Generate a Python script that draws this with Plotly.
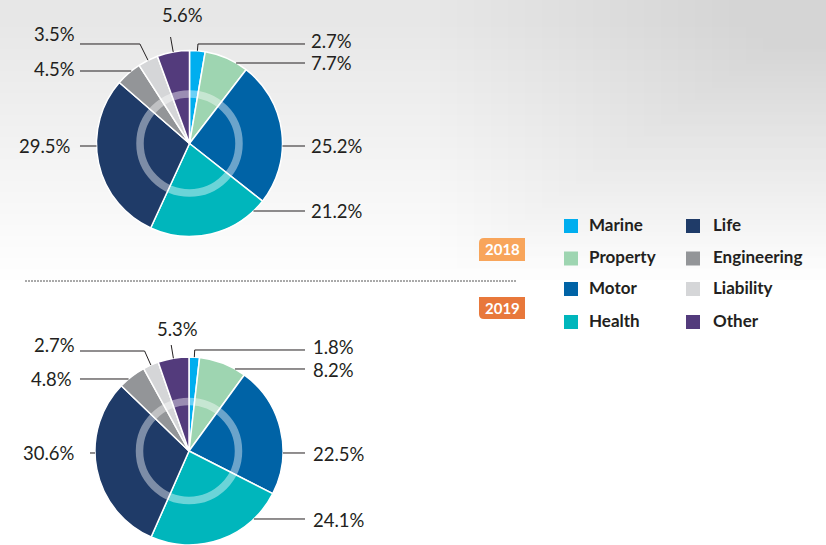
import math
import plotly.graph_objects as go

W, H = 826, 545

categories = ["Marine", "Property", "Motor", "Health", "Life", "Engineering", "Liability", "Other"]
colors = ["#00AEEF", "#9ED5B1", "#0063A6", "#00B6BC", "#1F3B68", "#939598", "#D5D6D8", "#533B7C"]
years = ["2018", "2019"]
share_2018 = [2.7, 7.7, 25.2, 21.2, 29.5, 4.5, 3.5, 5.6]
share_2019 = [1.8, 8.2, 22.5, 24.1, 30.6, 4.8, 2.7, 5.3]
shares = {"2018": share_2018, "2019": share_2019}

# pie placement in px: centre x, centre y, radius
pie_pos = {"2018": (189.5, 143.5, 93), "2019": (189, 451, 94)}

# label placement per slice: side, leader y, leader end x (or end y for top), text x, text y
label_pos = {
    "2018": [("r", 44, 305, 309, 41), ("r", 63, 305, 309, 63), ("r", 146, 305, 309, 146),
             ("r", 211, 305, 309, 211), ("l", 146, 80, 73, 146), ("l", 71, 80, 77, 69),
             ("l", 44, 80, 77, 34), ("t", 37, 0, 182, 15)],
    "2019": [("r", 350, 305, 311, 347), ("r", 369, 305, 311, 370), ("r", 453, 305, 311, 454),
             ("r", 519, 305, 311, 520), ("l", 453, 90, 77, 453), ("l", 379, 80, 74, 379),
             ("l", 351, 80, 77, 345), ("t", 345, 0, 177, 329)],
}

badge_colors = {"2018": "#F8A55B", "2019": "#E8783B"}
badge_pos = {"2018": (479, 238, 525, 261), "2019": (479, 297, 525, 319)}

LABEL_FONT = dict(family="Lato", size=18.5, color="#231F20")


def X(x):
    return x / W


def Y(y):
    return 1 - y / H


def path(points):
    return "M " + " L ".join(f"{X(x):.5f},{Y(y):.5f}" for x, y in points)


def leader(cx, cy, r, a0, a1, side, ly, lx):
    mid = math.radians((a0 + a1) / 2)
    dy = ly - cy
    if side != "t" and abs(dy) < r:
        dx = math.sqrt(r * r - dy * dy) * (1 if side == "r" else -1)
        ang = math.degrees(math.atan2(dx, -dy)) % 360
        if a0 <= ang <= a1:
            return [(cx + dx, ly), (lx, ly)]
    sx, sy = cx + r * math.sin(mid), cy - r * math.cos(mid)
    t = (sy - ly) / math.cos(mid)
    ex = sx + t * math.sin(mid)
    if side == "t":
        return [(sx, sy), (ex, ly)]
    return [(sx, sy), (ex, ly), (lx, ly)]


fig = go.Figure()
shapes = []
annotations = []

# soft background wash, stacked thin layers
for k in range(24):
    shapes.append(dict(type="rect", xref="paper", yref="paper", layer="below",
                       x0=0, x1=1, y0=Y(280 - k * 11), y1=1,
                       fillcolor="#E9EAEF", opacity=0.03, line_width=0))
for k in range(20):
    shapes.append(dict(type="rect", xref="paper", yref="paper", layer="below",
                       x0=X(440 + k * 17), x1=1, y0=Y(280 - k * 12), y1=1,
                       fillcolor="#D3D7E2", opacity=0.025, line_width=0))

for year in years:
    vals = shares[year]
    cx, cy, r = pie_pos[year]
    fig.add_trace(go.Pie(
        labels=categories, values=vals, sort=False, direction="clockwise", rotation=0,
        marker=dict(colors=colors, line=dict(color="white", width=1.5)),
        textinfo="none", hoverinfo="label+percent", showlegend=False,
        domain=dict(x=[X(cx - r), X(cx + r)], y=[Y(cy + r), Y(cy - r)]),
    ))
    # translucent inner ring
    rr = 49.5
    shapes.append(dict(type="circle", xref="paper", yref="paper", layer="above",
                       x0=X(cx - rr), x1=X(cx + rr), y0=Y(cy + rr), y1=Y(cy - rr),
                       line=dict(color="rgba(255,255,255,0.42)", width=7.5)))

    total = sum(vals)
    start = 0
    for v, (side, ly, lx, tx, ty) in zip(vals, label_pos[year]):
        a0 = start / total * 360
        a1 = (start + v) / total * 360
        start += v
        pts = leader(cx, cy, r, a0, a1, side, ly, lx)
        shapes.append(dict(type="path", xref="paper", yref="paper", layer="above",
                           path=path(pts), line=dict(color="#231F20", width=1)))
        anchor = {"r": "left", "l": "right", "t": "center"}[side]
        annotations.append(dict(x=X(tx), y=Y(ty), xref="paper", yref="paper",
                                text=f"{v:.1f}%", showarrow=False, xanchor=anchor,
                                yanchor="middle", font=LABEL_FONT))

    # year badge
    x0, y0, x1, y1 = badge_pos[year]
    rad = 5
    if year == "2018":
        bp = [(x0, y0 + rad), (x0, y1), (x1, y1), (x1, y0), (x0 + rad, y0)]
        d = path(bp) + f" Q {X(x0):.5f},{Y(y0):.5f} {X(x0):.5f},{Y(y0 + rad):.5f} Z"
    else:
        bp = [(x0, y0), (x1, y0), (x1, y1), (x0 + rad, y1)]
        d = path(bp) + f" Q {X(x0):.5f},{Y(y1):.5f} {X(x0):.5f},{Y(y1 - rad):.5f} Z"
    shapes.append(dict(type="path", xref="paper", yref="paper", path=d,
                       fillcolor=badge_colors[year], line_width=0))
    annotations.append(dict(x=X((x0 + x1) / 2), y=Y((y0 + y1) / 2), xref="paper", yref="paper",
                            text=f"<b>{year}</b>", showarrow=False,
                            font=dict(family="Lato", size=15, color="white")))

# dotted separator between the years
shapes.append(dict(type="line", xref="paper", yref="paper", x0=X(25), x1=X(517),
                   y0=Y(281), y1=Y(281), line=dict(color="#555555", width=1, dash="2px,1px")))

# two-column legend
rows_y = [226, 258.5, 289, 322]
cols = [(564, 587), (686, 711)]
for i, (name, col) in enumerate(zip(categories, colors)):
    sq_x, tx_x = cols[i // 4]
    yy = rows_y[i % 4]
    shapes.append(dict(type="rect", xref="paper", yref="paper",
                       x0=X(sq_x), x1=X(sq_x + 14), y0=Y(yy + 7), y1=Y(yy - 7),
                       fillcolor=col, line_width=0))
    annotations.append(dict(x=X(tx_x), y=Y(yy - 2), xref="paper", yref="paper",
                            text=f"<b>{name}</b>", showarrow=False, xanchor="left",
                            yanchor="middle", font=dict(family="Lato", size=17, color="#231F20")))

fig.update_layout(
    width=W, height=H, margin=dict(l=0, r=0, t=0, b=0),
    paper_bgcolor="white", plot_bgcolor="white",
    shapes=shapes, annotations=annotations,
)

fig.write_html("out.html", config={"displayModeBar": False},
               post_script="document.body.style.margin='0px';")
